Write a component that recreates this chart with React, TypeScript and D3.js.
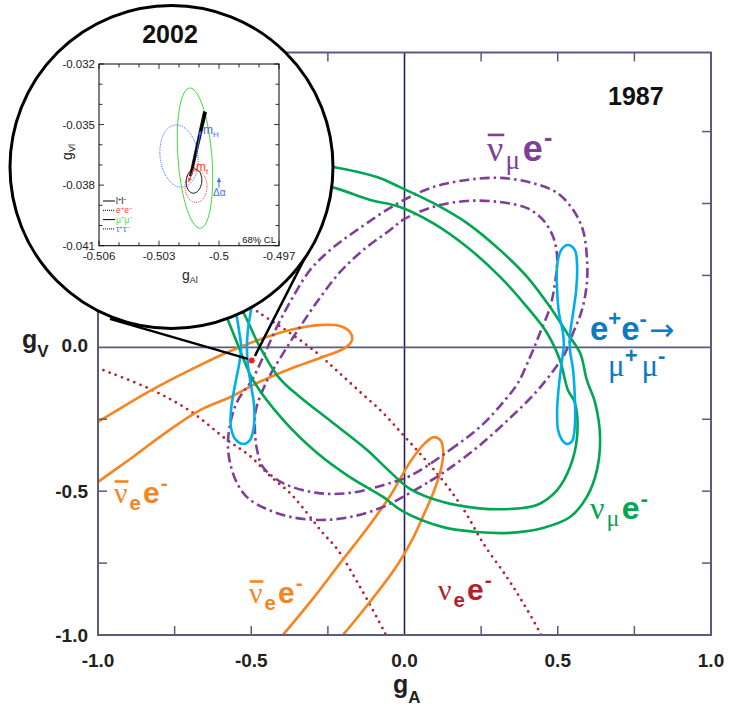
import React from 'react';
import * as d3 from 'd3';

type P = [number, number];

const SANS = "'Liberation Sans', Arial, Helvetica, sans-serif";
const SERIF = "'Liberation Serif', 'Times New Roman', serif";

// ---------------- main panel (gA, gV) ----------------
const X_TICKS = [-0.75, -0.5, -0.25, 0.25, 0.5, 0.75];
const Y_TICKS = [-0.75, -0.5, -0.25, 0.25, 0.5, 0.75];
const X_LABELS: [number, string][] = [[-1, '-1.0'], [-0.5, '-0.5'], [0, '0.0'], [0.5, '0.5'], [1, '1.0']];
const Y_LABELS: [number, string][] = [[-0.5, '-0.5'], [-1, '-1.0']];

// nu_mu e- (green band)
const NUMU_OUTER: P[] = [
  [-0.64, 0.25], [-0.579, 0.102], [-0.537, -0.009], [-0.494, -0.114], [-0.396, -0.252],
  [-0.285, -0.367], [-0.178, -0.451], [-0.07, -0.52], [-0.002, -0.572], [0.126, -0.625],
  [0.237, -0.642], [0.344, -0.645], [0.452, -0.628], [0.54, -0.59], [0.595, -0.52],
  [0.628, -0.426], [0.638, -0.311], [0.622, -0.193], [0.595, -0.114], [0.573, -0.02],
  [0.53, 0.05], [0.475, 0.14], [0.4, 0.245], [0.312, 0.338], [0.204, 0.432],
  [0.093, 0.502], [-0.015, 0.557], [-0.09, 0.592], [-0.233, 0.627], [-0.33, 0.64],
];
const NUMU_INNER: P[] = [
  [-0.6, 0.24], [-0.527, 0.123], [-0.475, 0.008], [-0.409, -0.106], [-0.341, -0.173],
  [-0.233, -0.263], [-0.122, -0.357], [-0.047, -0.433], [0.018, -0.492], [0.126, -0.538],
  [0.237, -0.559], [0.344, -0.562], [0.432, -0.548], [0.498, -0.496], [0.54, -0.416],
  [0.563, -0.311], [0.556, -0.193], [0.533, -0.148], [0.507, -0.044], [0.465, 0.05],
  [0.4, 0.14], [0.312, 0.245], [0.204, 0.349], [0.093, 0.432], [-0.015, 0.488],
  [-0.114, 0.513], [-0.237, 0.557], [-0.33, 0.57],
];

// anti-nu_mu e- (purple dash-dot ring)
const NUMUBAR_OUTER: P[] = [
  [-0.005, -0.52], [0.083, -0.465], [0.148, -0.42], [0.246, -0.34], [0.344, -0.246],
  [0.426, -0.159], [0.485, -0.082], [0.524, -0.02], [0.55, 0.05], [0.579, 0.13],
  [0.595, 0.224], [0.595, 0.314], [0.582, 0.408], [0.55, 0.478], [0.498, 0.537],
  [0.419, 0.571], [0.312, 0.589], [0.204, 0.582], [0.093, 0.557], [-0.015, 0.505],
  [-0.155, 0.408], [-0.243, 0.338], [-0.308, 0.269], [-0.364, 0.175], [-0.413, 0.078],
  [-0.458, -0.026], [-0.498, -0.114], [-0.543, -0.183], [-0.566, -0.252], [-0.576, -0.333],
  [-0.569, -0.402], [-0.543, -0.479], [-0.504, -0.53], [-0.396, -0.583], [-0.285, -0.6],
  [-0.178, -0.59], [-0.07, -0.555],
];
const NUMUBAR_INNER: P[] = [
  [0.018, -0.447], [0.148, -0.357], [0.253, -0.27], [0.328, -0.183], [0.37, -0.124],
  [0.41, -0.033], [0.442, 0.05], [0.475, 0.14], [0.491, 0.224], [0.498, 0.314],
  [0.485, 0.384], [0.452, 0.443], [0.4, 0.484], [0.312, 0.505], [0.204, 0.509],
  [0.093, 0.488], [-0.005, 0.443], [-0.047, 0.408], [-0.135, 0.338], [-0.21, 0.262],
  [-0.276, 0.172], [-0.341, 0.071], [-0.403, -0.033], [-0.452, -0.124], [-0.485, -0.218],
  [-0.488, -0.287], [-0.481, -0.357], [-0.462, -0.416], [-0.396, -0.472], [-0.285, -0.506],
  [-0.178, -0.506], [-0.07, -0.479],
];

// anti-nu_e e- (orange)
const NUEBAR_A: P[] = [
  [-1.042, -0.287], [-1.0, -0.259], [-0.83, -0.151], [-0.7, -0.079], [-0.56, -0.009],
  [-0.374, 0.06], [-0.266, 0.078], [-0.21, 0.074], [-0.178, 0.053], [-0.171, 0.026],
  [-0.194, -0.002], [-0.276, -0.037], [-0.374, -0.075], [-0.481, -0.124], [-0.56, -0.169],
  [-0.667, -0.218], [-0.781, -0.298], [-0.886, -0.381], [-1.0, -0.468], [-1.042, -0.503],
];
const NUEBAR_B: P[] = [
  [-0.439, -1.052], [-0.4, -1.004], [-0.302, -0.878], [-0.21, -0.75], [-0.126, -0.635],
  [-0.047, -0.517], [0.018, -0.399], [0.067, -0.333], [0.096, -0.312], [0.118, -0.324],
  [0.126, -0.357], [0.122, -0.409], [0.1, -0.489], [0.067, -0.572], [0.028, -0.663],
  [-0.021, -0.753], [-0.077, -0.836], [-0.139, -0.92], [-0.204, -1.004], [-0.243, -1.052],
];

// nu_e e- (dark red dotted)
const NUE_LOWER: P[] = [
  [-1.042, -0.054], [-1.0, -0.072], [-0.83, -0.145], [-0.7, -0.221], [-0.579, -0.322],
  [-0.504, -0.378], [-0.439, -0.447], [-0.374, -0.506], [-0.318, -0.576], [-0.266, -0.646],
  [-0.22, -0.701], [-0.145, -0.833], [-0.064, -0.993], [-0.041, -1.046],
];
const NUE_UPPER: P[] = [
  [-0.569, 0.192], [-0.478, 0.123], [-0.374, 0.05], [-0.285, -0.02], [-0.22, -0.082],
  [-0.145, -0.155], [-0.07, -0.228], [-0.005, -0.304], [0.06, -0.381], [0.116, -0.451],
  [0.165, -0.52], [0.204, -0.583], [0.256, -0.68], [0.334, -0.799], [0.387, -0.889],
  [0.442, -0.993], [0.462, -1.046],
];

// e+e- -> mu+mu- (cyan loops)
const EEMM_RIGHT: P[] = [
  [0.533, 0.356], [0.511, 0.338], [0.498, 0.286], [0.498, 0.199], [0.504, 0.119],
  [0.517, 0.05], [0.52, 0.008], [0.514, -0.044], [0.504, -0.131], [0.498, -0.218],
  [0.501, -0.287], [0.514, -0.322], [0.53, -0.336], [0.547, -0.326], [0.556, -0.27],
  [0.556, -0.183], [0.55, -0.079], [0.54, -0.009], [0.54, 0.043], [0.55, 0.119],
  [0.56, 0.199], [0.563, 0.286], [0.556, 0.338],
];
const EEMM_LEFT: P[] = [
  [-0.524, 0.321], [-0.543, 0.286], [-0.553, 0.217], [-0.55, 0.13], [-0.54, 0.06],
  [-0.533, -0.002], [-0.54, -0.061], [-0.553, -0.131], [-0.566, -0.218], [-0.566, -0.28],
  [-0.55, -0.322], [-0.527, -0.336], [-0.504, -0.322], [-0.491, -0.27], [-0.491, -0.2],
  [-0.501, -0.131], [-0.511, -0.061], [-0.514, -0.002], [-0.511, 0.06], [-0.501, 0.13],
  [-0.494, 0.206], [-0.501, 0.286],
];

const SM_POINT: P = [-0.4985, -0.046];
const CALLOUT_A: P[] = [[-0.961, 0.099], [-0.511, -0.04]];
const CALLOUT_B: P[] = [[-0.325, 0.311], [-0.488, -0.03]];

// ---------------- inset (gAl, gVl) ----------------
const INSET_X_LABELS: [number, string][] = [[-0.506, '-0.506'], [-0.503, '-0.503'], [-0.5, '-0.5'], [-0.497, '-0.497']];
const INSET_Y_LABELS: [number, string][] = [[-0.032, '-0.032'], [-0.035, '-0.035'], [-0.038, '-0.038'], [-0.041, '-0.041']];
const INSET_MINOR = [0, 1, 2, 3, 4, 5, 6, 7, 8, 9];

// ellipse specs: [centre gAl, centre gVl, half-width, half-height, lean of top]
const ELL_MUMU = [-0.5012, -0.03666, 0.00085, 0.00347, -0.00025];
const ELL_TAUTAU = [-0.502, -0.03656, 0.00095, 0.00154, -0.000125];
const ELL_EE = [-0.50115, -0.03807, 0.00055, 0.00079, 0.0];
const ELL_LL = [-0.50125, -0.0378, 0.00039, 0.0006, 0.00003];

const SM_BAND: P[] = [[-0.501475, -0.037546], [-0.500775, -0.034352], [-0.500625, -0.034401], [-0.501375, -0.037546]];
const ARROW_MH: P[] = [[-0.501125, -0.036505], [-0.500925, -0.035317]];
const ARROW_MT: P[] = [[-0.501225, -0.037099], [-0.501525, -0.037841]];
const ARROW_DA: P[] = [[-0.5, -0.038138], [-0.5, -0.037643]];
const LABEL_MH: P = [-0.5008, -0.03547];
const LABEL_MT: P = [-0.50115, -0.0373];
const LABEL_DA: P = [-0.5003, -0.03853];

const LEGEND_NAMES = ['l', 'e', 'μ', 'τ'];
const LEGEND_COLORS = ['#000000', '#ff3a2f', '#3fd93f', '#3b6bff'];
const LEGEND_DOTTED = [false, true, false, true];

const C_GREEN = '#00a651';
const C_PURPLE = '#7f3f98';
const C_ORANGE = '#f7841f';
const C_RED = '#b5202e';
const C_CYAN = '#00aeef';
const C_BLUE = '#0a7cc4';
const C_FRAME = '#5b5b7e';

function NuLabel(props: { x: number; y: number; color: string; size: number; bar?: boolean; sub: string }) {
  const { x, y, color, size, bar, sub } = props;
  const greek = sub === 'μ';
  return (
    <g>
      <text x={x} y={y} fill={color} fontSize={size}>
        <tspan fontFamily={SERIF}>ν</tspan>
        <tspan
          fontFamily={greek ? SERIF : SANS}
          fontWeight={greek ? 'normal' : 'bold'}
          fontSize={size * (greek ? 0.75 : 0.68)}
          dx={size * 0.06}
          dy={size * 0.22}
        >
          {sub}
        </tspan>
        <tspan fontFamily={SANS} fontWeight="bold" dx={size * 0.08} dy={-size * 0.22}>
          e
        </tspan>
        <tspan fontFamily={SANS} fontWeight="bold" fontSize={size * 0.7} dx={size * 0.03} dy={-size * 0.42}>
          -
        </tspan>
      </text>
      {bar && <rect x={x + size * 0.02} y={y - size * 0.76} width={size * 0.46} height={2.6} fill={color} />}
    </g>
  );
}

function arrowHead(from: [number, number], to: [number, number], len: number, half: number) {
  const dx = to[0] - from[0];
  const dy = to[1] - from[1];
  const L = Math.hypot(dx, dy) || 1;
  const ux = dx / L, uy = dy / L;
  const bx = to[0] - ux * len, by = to[1] - uy * len;
  return `M${to[0]},${to[1]}L${bx - uy * half},${by + ux * half}L${bx + uy * half},${by - ux * half}Z`;
}

export default function App() {
  const x = d3.scaleLinear().domain([-1, 1]).range([98, 711]);
  const y = d3.scaleLinear().domain([-1, 1.025]).range([635, 52.5]);
  const open = d3.line<P>().x((d) => x(d[0])).y((d) => y(d[1])).curve(d3.curveCatmullRom.alpha(0.5));
  const closed = d3.line<P>().x((d) => x(d[0])).y((d) => y(d[1])).curve(d3.curveCatmullRomClosed.alpha(0.5));

  const ix = d3.scaleLinear().domain([-0.506, -0.497]).range([99, 279]);
  const iy = d3.scaleLinear().domain([-0.041, -0.032]).range([245.7, 64]);
  const iline = d3.line<P>().x((d) => ix(d[0])).y((d) => iy(d[1]));

  const ellipse = (e: number[]) => {
    const [cx, cy, rx, ry, lean] = e;
    const pts: P[] = d3.range(0, 361, 4).map((a) => {
      const t = (a * Math.PI) / 180;
      return [cx + rx * Math.cos(t) + lean * Math.sin(t), cy + ry * Math.sin(t)];
    });
    return iline(pts) || '';
  };

  const [x0, x1] = x.range();
  const [y0, y1] = y.range();
  const circ = { cx: 171.5, cy: 167, r: 161.5 };

  const ipx = (p: P): [number, number] => [ix(p[0]), iy(p[1])];
  const mh = ARROW_MH.map(ipx);
  const mt = ARROW_MT.map(ipx);
  const da = ARROW_DA.map(ipx);

  const [ix0, ix1] = ix.range();
  const [iy0, iy1] = iy.range();

  return (
    <svg width={730} height={709} style={{ position: 'absolute', left: 0, top: 0, background: '#fff' }} fontFamily={SANS}>
      <defs>
        <clipPath id="plotclip">
          <rect x={x0} y={y1} width={x1 - x0} height={y0 - y1} />
        </clipPath>
      </defs>
      <rect x={0} y={0} width={730} height={709} fill="#fff" />

      {/* zero lines */}
      <line x1={x(0)} x2={x(0)} y1={y1} y2={y0} stroke="#23235e" strokeWidth={1.6} />
      <line x1={x0} x2={x1} y1={y(0)} y2={y(0)} stroke={C_FRAME} strokeWidth={1.6} />

      <g clipPath="url(#plotclip)" fill="none">
        <path d={open(NUE_LOWER) || ''} stroke={C_RED} strokeWidth={2.8} strokeDasharray="0 6.6" strokeLinecap="round" />
        <path d={open(NUE_UPPER) || ''} stroke={C_RED} strokeWidth={2.8} strokeDasharray="0 6.6" strokeLinecap="round" />
        <path d={closed(NUEBAR_A) || ''} stroke={C_ORANGE} strokeWidth={2.6} />
        <path d={closed(NUEBAR_B) || ''} stroke={C_ORANGE} strokeWidth={2.6} />
        <path d={closed(NUMUBAR_OUTER) || ''} stroke={C_PURPLE} strokeWidth={2.6} strokeDasharray="10 4 2.5 4" />
        <path d={closed(NUMUBAR_INNER) || ''} stroke={C_PURPLE} strokeWidth={2.6} strokeDasharray="10 4 2.5 4" />
        <path d={open(NUMU_OUTER) || ''} stroke={C_GREEN} strokeWidth={2.6} />
        <path d={open(NUMU_INNER) || ''} stroke={C_GREEN} strokeWidth={2.6} />
        <path d={closed(EEMM_LEFT) || ''} stroke={C_CYAN} strokeWidth={2.6} />
        <path d={closed(EEMM_RIGHT) || ''} stroke={C_CYAN} strokeWidth={2.6} />
      </g>

      {/* frame and ticks */}
      <rect x={x0} y={y1} width={x1 - x0} height={y0 - y1} fill="none" stroke={C_FRAME} strokeWidth={2} />
      <g stroke={C_FRAME} strokeWidth={1.5}>
        {X_TICKS.map((t) => (
          <g key={'xt' + t}>
            <line x1={x(t)} x2={x(t)} y1={y0} y2={y0 - 9} />
            <line x1={x(t)} x2={x(t)} y1={y1} y2={y1 + 9} />
          </g>
        ))}
        {Y_TICKS.map((t) => (
          <g key={'yt' + t}>
            <line x1={x0} x2={x0 + 9} y1={y(t)} y2={y(t)} />
            <line x1={x1} x2={x1 - 9} y1={y(t)} y2={y(t)} />
          </g>
        ))}
      </g>

      {/* axis labels */}
      <g fontWeight="bold" fontSize={19} fill="#231f20">
        {X_LABELS.map(([v, s]) => (
          <text key={'xl' + v} x={x(v)} y={667} textAnchor="middle">
            {s}
          </text>
        ))}
        {Y_LABELS.map(([v, s]) => (
          <text key={'yl' + v} x={88} y={y(v) + 6.5} textAnchor="end">
            {s}
          </text>
        ))}
        <text x={88} y={y(0) + 5} textAnchor="end">
          0.0
        </text>
        <text x={22} y={348} fontSize={25}>
          g<tspan fontSize={17} dy={9}>V</tspan>
        </text>
        <text x={393} y={692.5} fontSize={25}>
          g<tspan fontSize={17} dy={10}>A</tspan>
        </text>
      </g>

      {/* magnifier circle */}
      <circle cx={circ.cx} cy={circ.cy} r={circ.r} fill="#fff" stroke="#000" strokeWidth={3} />

      {/* inset */}
      <g>
        <text x={170} y={43} textAnchor="middle" fontWeight="bold" fontSize={25} fill="#111">
          2002
        </text>
        <rect x={ix0} y={iy1} width={ix1 - ix0} height={iy0 - iy1} fill="none" stroke="#000" strokeWidth={1} />
        <g stroke="#000" strokeWidth={0.8}>
          {INSET_MINOR.map((i) => {
            const vx = -0.506 + i * 0.001;
            const vy = -0.041 + i * 0.001;
            const major = i % 3 === 0;
            const L = major ? 5 : 3.5;
            return (
              <g key={'it' + i}>
                <line x1={ix(vx)} x2={ix(vx)} y1={iy0} y2={iy0 - L} />
                <line x1={ix(vx)} x2={ix(vx)} y1={iy1} y2={iy1 + L} />
                <line x1={ix0} x2={ix0 + L} y1={iy(vy)} y2={iy(vy)} />
                <line x1={ix1} x2={ix1 - L} y1={iy(vy)} y2={iy(vy)} />
              </g>
            );
          })}
        </g>
        <g fontSize={11.5} fill="#222">
          {INSET_X_LABELS.map(([v, s]) => (
            <text key={'ixl' + v} x={ix(v)} y={260} textAnchor="middle">
              {s}
            </text>
          ))}
          {INSET_Y_LABELS.map(([v, s]) => (
            <text key={'iyl' + v} x={95} y={iy(v) + 4} textAnchor="end">
              {s}
            </text>
          ))}
          <text x={182} y={280} fontSize={14}>
            g<tspan fontSize={9} dy={3}>Al</tspan>
          </text>
          <text transform="translate(72,152) rotate(-90)" textAnchor="middle" fontSize={14}>
            g<tspan fontSize={9} dy={3}>Vl</tspan>
          </text>
        </g>

        <g fill="none">
          <path d={ellipse(ELL_MUMU)} stroke="#3fd93f" strokeWidth={1} />
          <path d={ellipse(ELL_TAUTAU)} stroke="#3b6bff" strokeWidth={1} strokeDasharray="1 1" />
          <path d={ellipse(ELL_EE)} stroke="#ff3a2f" strokeWidth={1} strokeDasharray="1 1" />
          <path d={ellipse(ELL_LL)} stroke="#000" strokeWidth={1} />
        </g>
        <path d={(iline(SM_BAND) || '') + 'Z'} fill="#000" stroke="#000" strokeWidth={0.8} />
        <line x1={mh[0][0]} y1={mh[0][1]} x2={mh[1][0]} y2={mh[1][1]} stroke="#3b6bff" strokeWidth={1} />
        <path d={arrowHead(mh[0], mh[1], 4, 2)} fill="#3b6bff" />
        <line x1={mt[0][0]} y1={mt[0][1]} x2={mt[1][0]} y2={mt[1][1]} stroke="#ff3a2f" strokeWidth={1} />
        <path d={arrowHead(mt[0], mt[1], 4, 2)} fill="#ff3a2f" />
        <line x1={da[0][0]} y1={da[0][1]} x2={da[1][0]} y2={da[1][1]} stroke="#3b6bff" strokeWidth={1} />
        <path d={arrowHead(da[0], da[1], 4, 2.2)} fill="#3b6bff" />
        <text x={ix(LABEL_MH[0])} y={iy(LABEL_MH[1])} fontSize={12} fill="#3b6bff">
          m<tspan fontSize={8} dy={3}>H</tspan>
        </text>
        <text x={ix(LABEL_MT[0])} y={iy(LABEL_MT[1])} fontSize={12} fill="#ff3a2f">
          m<tspan fontSize={8} dy={3}>t</tspan>
        </text>
        <text x={ix(LABEL_DA[0])} y={iy(LABEL_DA[1])} fontSize={10} fill="#3b6bff">
          Δα
        </text>

        {LEGEND_NAMES.map((n, i) => {
          const yy = 201 + i * 9.3;
          return (
            <g key={'lg' + i}>
              <line
                x1={103}
                x2={115}
                y1={yy}
                y2={yy}
                stroke="#000"
                strokeWidth={1}
                strokeDasharray={LEGEND_DOTTED[i] ? '1 1' : undefined}
              />
              <text x={116} y={yy + 3} fontSize={8.5} fill={LEGEND_COLORS[i]}>
                {n}
                <tspan fontSize={6} dy={-3.2}>+</tspan>
                <tspan dy={3.2}>{n}</tspan>
                <tspan fontSize={6} dy={-3.2}>−</tspan>
              </text>
            </g>
          );
        })}
        <text x={276} y={243} fontSize={9.5} textAnchor="end" fill="#111">
          68% CL
        </text>
      </g>

      {/* callout lines */}
      <g stroke="#000" strokeWidth={2.5}>
        <line x1={x(CALLOUT_A[0][0])} y1={y(CALLOUT_A[0][1])} x2={x(CALLOUT_A[1][0])} y2={y(CALLOUT_A[1][1])} />
        <line x1={x(CALLOUT_B[0][0])} y1={y(CALLOUT_B[0][1])} x2={x(CALLOUT_B[1][0])} y2={y(CALLOUT_B[1][1])} />
      </g>
      <circle cx={x(SM_POINT[0])} cy={y(SM_POINT[1])} r={3} fill="#ff1a1a" />

      {/* labels */}
      <text x={608} y={105} fontWeight="bold" fontSize={25} fill="#111">
        1987
      </text>
      <NuLabel x={487} y={161} color={C_PURPLE} size={36} bar sub="μ" />
      <NuLabel x={590} y={519} color={C_GREEN} size={32} sub="μ" />
      <NuLabel x={438} y={600} color={C_RED} size={30} sub="e" />
      <NuLabel x={249} y={603} color={C_ORANGE} size={30} bar sub="e" />
      <NuLabel x={114} y={503} color={C_ORANGE} size={30} bar sub="e" />

      <text x={590} y={340} fill={C_BLUE} fontSize={33} fontWeight="bold">
        e<tspan fontSize={22} dy={-14}>+</tspan>
        <tspan dy={14}>e</tspan>
        <tspan fontSize={22} dy={-14}>-</tspan>
        <tspan fontFamily="'DejaVu Sans', sans-serif" fontWeight="normal" fontSize={30} dy={14} dx={2}>
          →
        </tspan>
      </text>
      <text x={608} y={376} fill={C_BLUE} fontSize={31} fontFamily={SERIF}>
        μ<tspan fontSize={22} fontFamily={SANS} fontWeight="bold" dy={-13}>+</tspan>
        <tspan dy={13} dx={4}>μ</tspan>
        <tspan fontSize={22} fontFamily={SANS} fontWeight="bold" dy={-13}>-</tspan>
      </text>
    </svg>
  );
}
